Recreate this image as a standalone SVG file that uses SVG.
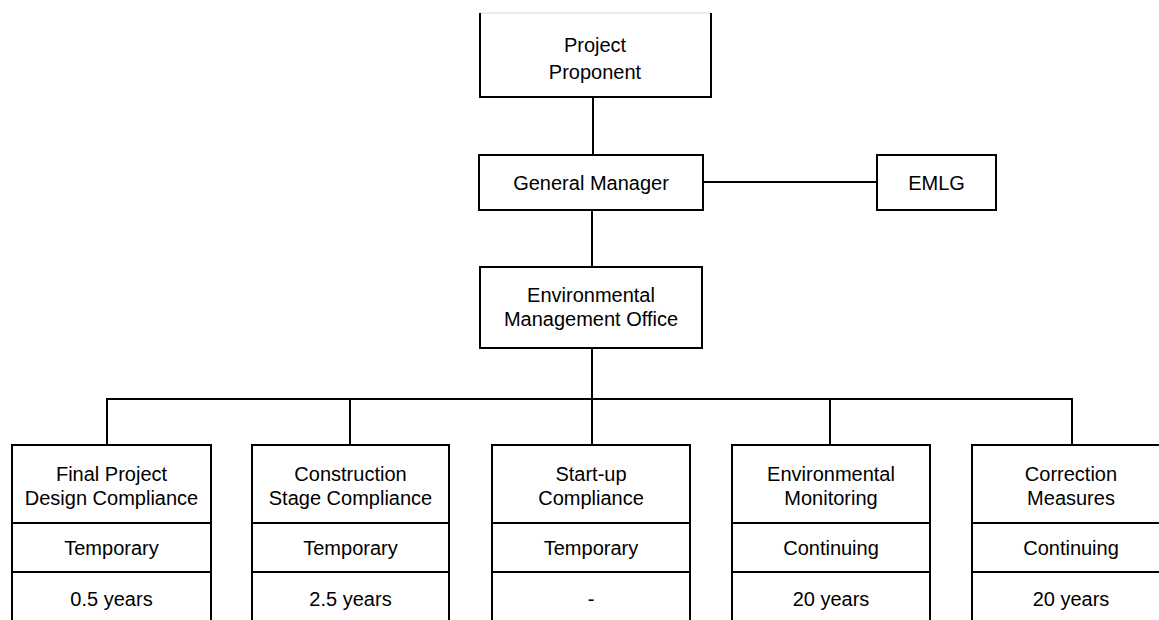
<svg xmlns="http://www.w3.org/2000/svg" width="1159" height="620" viewBox="0 0 1159 620">
<style>
.box{fill:#fff;stroke:#000;stroke-width:2}
.ln{stroke:#000;stroke-width:2;fill:none}
.t{font-family:"Liberation Sans",Arial,sans-serif;font-size:20px;fill:#000;text-anchor:middle}
</style>
<rect width="1159" height="620" fill="#fff"/>
<g id="connectors" class="ln">
<line x1="593" y1="97" x2="593" y2="155"/>
<line x1="703" y1="182" x2="877" y2="182"/>
<line x1="592" y1="210" x2="592" y2="267"/>
<line x1="592" y1="348" x2="592" y2="399"/>
<line x1="106" y1="399" x2="1073" y2="399"/>
<line x1="107" y1="399" x2="107" y2="445"/>
<line x1="350" y1="399" x2="350" y2="445"/>
<line x1="592" y1="399" x2="592" y2="445"/>
<line x1="830" y1="399" x2="830" y2="445"/>
<line x1="1072" y1="399" x2="1072" y2="445"/>
</g>
<g id="project-proponent">
<rect x="480" y="13" width="231" height="84" fill="#fff"/>
<line x1="480" y1="13" x2="711" y2="13" stroke="#d8d8d8" stroke-width="1"/>
<path class="ln" d="M480 13 V97 H711 V13"/>
<text class="t" x="595" y="52">Project</text>
<text class="t" x="595" y="79">Proponent</text>
</g>
<g id="general-manager">
<rect class="box" x="479" y="155" width="224" height="55"/>
<text class="t" x="591" y="190">General Manager</text>
</g>
<g id="emlg">
<rect class="box" x="877" y="155" width="119" height="55"/>
<text class="t" x="936.5" y="190">EMLG</text>
</g>
<g id="emo">
<rect class="box" x="480" y="267" width="222" height="81"/>
<text class="t" x="591" y="302">Environmental</text>
<text class="t" x="591" y="326">Management Office</text>
</g>
<g id="final-project">
<rect class="box" x="12" y="445" width="199" height="200"/>
<line class="ln" x1="12" y1="523" x2="211" y2="523"/>
<line class="ln" x1="12" y1="572" x2="211" y2="572"/>
<text class="t" x="111.5" y="481">Final Project</text>
<text class="t" x="111.5" y="505">Design Compliance</text>
<text class="t" x="111.5" y="555">Temporary</text>
<text class="t" x="111.5" y="606">0.5 years</text>
</g>
<g id="construction">
<rect class="box" x="252" y="445" width="197" height="200"/>
<line class="ln" x1="252" y1="523" x2="449" y2="523"/>
<line class="ln" x1="252" y1="572" x2="449" y2="572"/>
<text class="t" x="350.5" y="481">Construction</text>
<text class="t" x="350.5" y="505">Stage Compliance</text>
<text class="t" x="350.5" y="555">Temporary</text>
<text class="t" x="350.5" y="606">2.5 years</text>
</g>
<g id="startup">
<rect class="box" x="492" y="445" width="198" height="200"/>
<line class="ln" x1="492" y1="523" x2="690" y2="523"/>
<line class="ln" x1="492" y1="572" x2="690" y2="572"/>
<text class="t" x="591" y="481">Start-up</text>
<text class="t" x="591" y="505">Compliance</text>
<text class="t" x="591" y="555">Temporary</text>
<text class="t" x="591" y="606">-</text>
</g>
<g id="monitoring">
<rect class="box" x="732" y="445" width="198" height="200"/>
<line class="ln" x1="732" y1="523" x2="930" y2="523"/>
<line class="ln" x1="732" y1="572" x2="930" y2="572"/>
<text class="t" x="831" y="481">Environmental</text>
<text class="t" x="831" y="505">Monitoring</text>
<text class="t" x="831" y="555">Continuing</text>
<text class="t" x="831" y="606">20 years</text>
</g>
<g id="correction">
<rect class="box" x="972" y="445" width="198" height="200"/>
<line class="ln" x1="972" y1="523" x2="1170" y2="523"/>
<line class="ln" x1="972" y1="572" x2="1170" y2="572"/>
<text class="t" x="1071" y="481">Correction</text>
<text class="t" x="1071" y="505">Measures</text>
<text class="t" x="1071" y="555">Continuing</text>
<text class="t" x="1071" y="606">20 years</text>
</g>
</svg>
